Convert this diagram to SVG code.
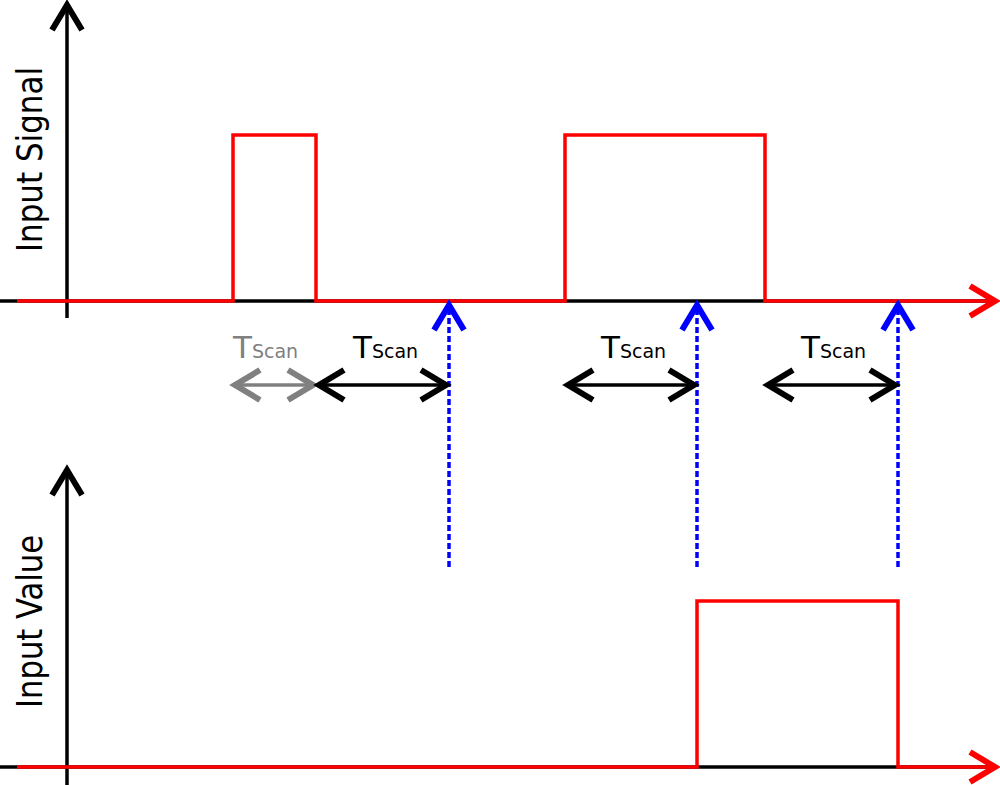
<svg xmlns="http://www.w3.org/2000/svg" width="1000" height="785" viewBox="0 0 1000 785">
<style>
.axis{stroke:#000;stroke-width:3.5;fill:none}
.sig{stroke:#f00;stroke-width:3.5;fill:none}
.scan{stroke:#00f;stroke-width:3.5;fill:none;stroke-dasharray:6,3}
.dim{stroke:#000;stroke-width:3.5;fill:none}
.dimg{stroke:#808080;stroke-width:3.5;fill:none}
.lbl{font-family:"DejaVu Sans Condensed","DejaVu Sans",sans-serif;font-size:36px;fill:#000}
.ts{font-family:"DejaVu Sans",sans-serif;fill:#000}
</style>
<defs>
<marker id="chevK" markerUnits="userSpaceOnUse" viewBox="-30 -20 36 40" refX="0" refY="0" markerWidth="36" markerHeight="40" orient="auto-start-reverse" overflow="visible">
<path d="M-25,-15 L0,0 L-25,15" fill="none" stroke="#000" stroke-width="6"/>
</marker>
<marker id="chevR" markerUnits="userSpaceOnUse" viewBox="-30 -20 36 40" refX="0" refY="0" markerWidth="36" markerHeight="40" orient="auto" overflow="visible">
<path d="M-25,-15 L0,0 L-25,15" fill="none" stroke="#f00" stroke-width="6"/>
</marker>
<marker id="chevB" markerUnits="userSpaceOnUse" viewBox="-30 -20 36 40" refX="0" refY="0" markerWidth="36" markerHeight="40" orient="auto" overflow="visible">
<path d="M-25,-15 L0,0 L-25,15" fill="none" stroke="#00f" stroke-width="6"/>
</marker>
<marker id="chevG" markerUnits="userSpaceOnUse" viewBox="-30 -20 36 40" refX="0" refY="0" markerWidth="36" markerHeight="40" orient="auto-start-reverse" overflow="visible">
<path d="M-25,-15 L0,0 L-25,15" fill="none" stroke="#808080" stroke-width="6"/>
</marker>
</defs>
<rect width="1000" height="785" fill="#fff"/>
<g id="top-plot">
<line class="axis" x1="0" y1="301" x2="990" y2="301"/>
<line class="axis" x1="67" y1="318" x2="67" y2="5" marker-end="url(#chevK)"/>
<path class="sig" d="M17,301 H233 V135 H316 V301 H565 V135 H765 V301 H995" marker-end="url(#chevR)"/>
<text class="lbl" transform="translate(42,252) rotate(-90)" textLength="185" lengthAdjust="spacingAndGlyphs">Input Signal</text>
</g>
<g id="bottom-plot">
<line class="axis" x1="0" y1="767" x2="990" y2="767"/>
<line class="axis" x1="67" y1="785" x2="67" y2="470" marker-end="url(#chevK)"/>
<path class="sig" d="M17,767 H697 V601 H898 V767 H995" marker-end="url(#chevR)"/>
<text class="lbl" transform="translate(42,708) rotate(-90)" textLength="173" lengthAdjust="spacingAndGlyphs">Input Value</text>
</g>
<g id="connectors">
<line class="scan" x1="449" y1="567" x2="449" y2="305" marker-end="url(#chevB)"/>
<line class="scan" x1="697" y1="567" x2="697" y2="305" marker-end="url(#chevB)"/>
<line class="scan" x1="898" y1="567" x2="898" y2="305" marker-end="url(#chevB)"/>
<line class="dimg" x1="235" y1="385" x2="313" y2="385" marker-start="url(#chevG)" marker-end="url(#chevG)"/>
<line class="dim" x1="319" y1="385" x2="446" y2="385" marker-start="url(#chevK)" marker-end="url(#chevK)"/>
<line class="dim" x1="568" y1="385" x2="694" y2="385" marker-start="url(#chevK)" marker-end="url(#chevK)"/>
<line class="dim" x1="768" y1="385" x2="895" y2="385" marker-start="url(#chevK)" marker-end="url(#chevK)"/>
</g>
<g id="labels">
<text class="ts" x="233" y="358" style="fill:#808080"><tspan font-size="31">T</tspan><tspan font-size="19">Scan</tspan></text>
<text class="ts" x="353" y="358"><tspan font-size="31">T</tspan><tspan font-size="19">Scan</tspan></text>
<text class="ts" x="601" y="358"><tspan font-size="31">T</tspan><tspan font-size="19">Scan</tspan></text>
<text class="ts" x="801" y="358"><tspan font-size="31">T</tspan><tspan font-size="19">Scan</tspan></text>
</g>
</svg>
